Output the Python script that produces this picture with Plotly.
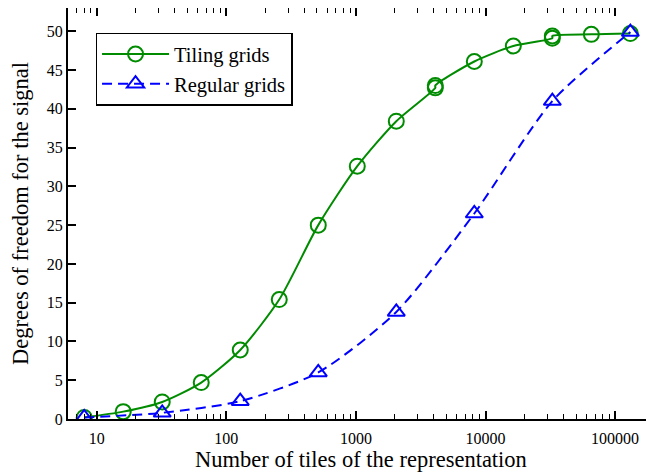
import plotly.graph_objects as go

tiles_tiling = [8, 16, 32, 64, 128, 256, 512, 1024, 2048, 4096, 4096, 8192, 16384, 32768, 32768, 65536, 131072]
dof_tiling = [0.2, 0.95, 2.2, 4.7, 8.9, 15.4, 25.0, 32.6, 38.4, 42.7, 43.0, 46.1, 48.1, 49.1, 49.4, 49.6, 49.7]

tiles_regular = [8, 32, 128, 512, 2048, 8192, 32768, 131072]
dof_regular = [0.2, 0.8, 2.3, 6.0, 13.8, 26.5, 41.0, 49.9]

x_ticks = [10, 100, 1000, 10000, 100000]
x_tick_labels = ["10", "100", "1000", "10000", "100000"]

green = "#008b00"
blue = "#0000ff"
font_family = "Liberation Serif"

fig = go.Figure()
fig.add_trace(go.Scatter(
    x=tiles_tiling, y=dof_tiling, name="Tiling grids",
    mode="lines+markers", line=dict(color=green, width=2, shape="spline", smoothing=0.7),
    marker=dict(symbol="circle-open", size=15, color=green, line=dict(width=2, color=green)),
))
fig.add_trace(go.Scatter(
    x=tiles_regular, y=dof_regular, name="Regular grids",
    mode="lines+markers", line=dict(color=blue, width=2, dash="10px,6px", shape="spline", smoothing=0.7),
    marker=dict(symbol="triangle-up-open", size=15, color=blue, line=dict(width=2, color=blue)),
))

axis_common = dict(
    showline=True, linecolor="black", linewidth=2, mirror="ticks",
    ticks="inside", ticklen=8, tickwidth=1.5, tickcolor="black",
    showgrid=False, zeroline=False, automargin=False,
    tickfont=dict(family=font_family, size=16, color="black"),
    title_font=dict(family=font_family, size=22.5, color="black"),
)

fig.update_xaxes(
    type="log", range=[0.778, 5.3],
    tickvals=x_ticks, ticktext=x_tick_labels,
    minor=dict(ticks="inside", ticklen=5, tickwidth=1.2, tickcolor="black", dtick="D1", showgrid=False),
    title_text="Number of tiles of the representation", title_standoff=5,
    ticklabelstandoff=4,
    **axis_common,
)
fig.update_yaxes(
    range=[0, 53], dtick=5, tick0=0,
    title_text="Degrees of freedom for the signal", title_standoff=16,
    **axis_common,
)

# page body has an 8px default margin, so the figure is sized to fit the window
fig.update_layout(
    width=646, height=467,
    margin=dict(l=60, r=0, t=0, b=56),
    paper_bgcolor="white", plot_bgcolor="white",
    showlegend=True,
    legend=dict(
        x=0.047, y=0.94, xanchor="left", yanchor="top",
        bgcolor="white", bordercolor="black", borderwidth=1.5,
        font=dict(family=font_family, size=20.5, color="black"),
        tracegroupgap=0, itemwidth=67,
    ),
    font=dict(family=font_family, color="black"),
)

fig.write_html("out.html")
